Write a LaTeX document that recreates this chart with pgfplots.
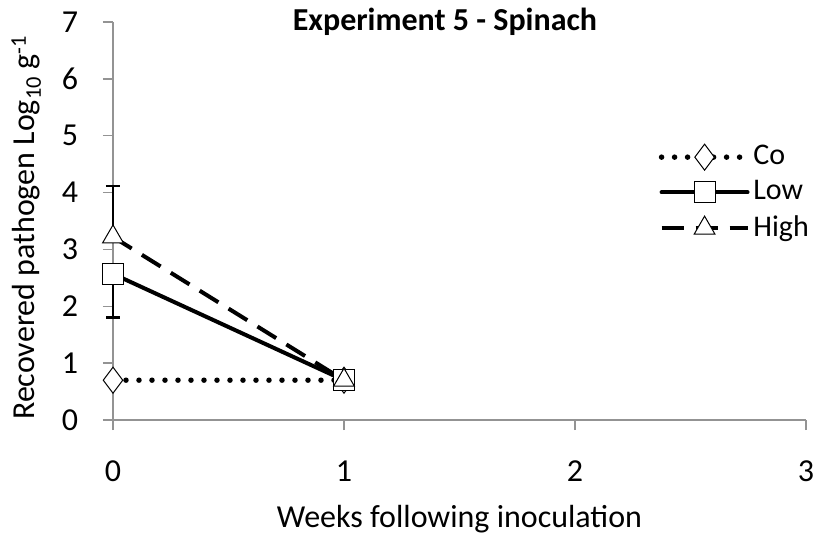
\documentclass[border=0pt]{standalone}
\usepackage{fontspec}
\setmainfont{Carlito}
\usepackage{pgfplots}
\pgfplotsset{compat=1.18}

\begin{document}
\fontsize{32}{38}\selectfont
\begin{tikzpicture}
\begin{axis}[
  scale only axis,
  width=693pt, height=398pt,
  xmin=0, xmax=3, ymin=0, ymax=7,
  xtick={0,1,2,3}, ytick={0,1,...,7},
  axis lines=left,
  axis line style={-, draw=gray!85, line width=1.5pt},
  tick style={draw=gray!85, line width=1.5pt},
  tick align=outside, major tick length=10pt,
  /pgf/number format/assume math mode=true,
  tick label style={font=\fontsize{32}{38}\selectfont},
  xticklabel style={yshift=-20pt},
  yticklabel style={xshift=-14pt},
  title={\textbf{Experiment 5 - Spinach}},
  title style={at={(axis description cs:0.479,1)}, anchor=base, yshift=-14pt, font=\fontsize{32}{38}\selectfont},
  xlabel={Weeks following inoculation},
  ylabel={Recovered pathogen Log\textsubscript{10} g\textsuperscript{-1}},
  label style={font=\fontsize{32}{38}\selectfont},
  xlabel style={at={(axis description cs:0.5,0)}, anchor=base, yshift=-107pt},
  ylabel style={at={(axis description cs:0,0.483)}, anchor=base, yshift=78pt},
  clip=false,
  legend style={draw=none, fill=none, at={(axis description cs:0.783,0.704)}, anchor=north west,
    font=\fontsize{30}{36}\selectfont, row sep=5pt,
    nodes={inner sep=3pt}},
  legend cell align=left,
  legend image code/.code={
    \draw[mark repeat=2, mark phase=2] plot coordinates {(0pt,0pt) (43pt,0pt) (86pt,0pt)};
  },
  error bars/error bar style={line width=2.5pt, solid, black},
  error bars/error mark options={rotate=90, mark size=7pt, line width=2.5pt, solid},
]
\addplot[black, line width=5.5pt, dash pattern=on 0pt off 13pt, line cap=round,
  mark=diamond*, mark size=13pt, mark options={solid, fill=white, draw=black, line width=1pt}]
  coordinates {(0,0.70) (1,0.70)};
\addlegendentry{Co}
\addplot[black, line width=4pt, line cap=round,
  mark=square*, mark size=10.5pt, mark options={solid, fill=white, draw=black, line width=1pt},
  error bars/.cd, y dir=minus, y explicit]
  coordinates {(0,2.57) +- (0,0.77) (1,0.70) +- (0,0)};
\addlegendentry{Low}
\addplot[black, line width=4pt, dash pattern=on 22pt off 12pt,
  mark=triangle*, mark size=12pt, mark options={solid, fill=white, draw=black, line width=1pt},
  error bars/.cd, y dir=plus, y explicit]
  coordinates {(0,3.22) +- (0,0.90) (1,0.70) +- (0,0)};
\addlegendentry{High}
\end{axis}
\pgfresetboundingbox
\useasboundingbox (-113pt,-121pt) rectangle (702pt,420pt);
\end{tikzpicture}
\end{document}
